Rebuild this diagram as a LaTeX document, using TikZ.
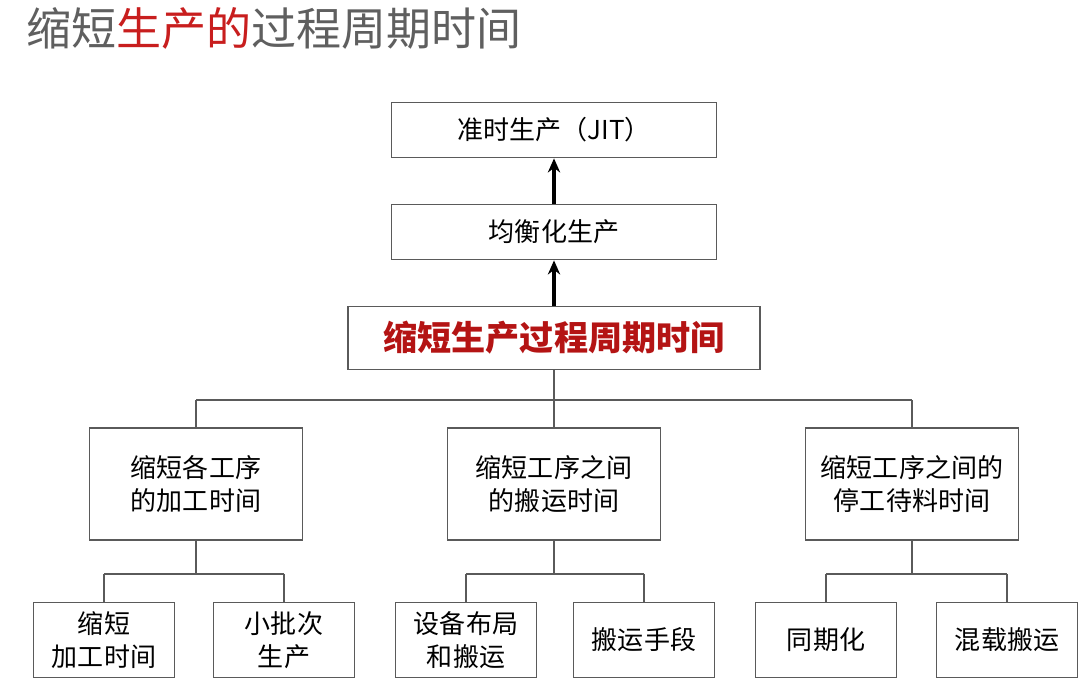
\documentclass[tikz,border=0pt]{standalone}
\usepackage{fontspec}
\setmainfont{Noto Sans CJK SC}
\usetikzlibrary{positioning,arrows.meta}
\definecolor{boxline}{RGB}{90,90,90}
\definecolor{titlered}{RGB}{200,30,30}
\definecolor{titlegray}{RGB}{95,95,95}
\definecolor{mainred}{RGB}{180,20,20}
\begin{document}
\begin{tikzpicture}[x=0.01cm,y=-0.01cm,
        box/.style = {draw = boxline, line width = 0.5pt, align = center, inner sep = 0pt,
                      font = \fontsize{7.4pt}{9.4pt}\selectfont},
        link/.style = {draw = boxline, line width = 0.5pt},
        up/.style = {-{Stealth[length=4pt,width=3.5pt]}, line width = 1.2pt}
    ]
    \useasboundingbox (0,0) rectangle (1080,684);

    % title
    \node[anchor=west, font=\fontsize{12.8pt}{14pt}\selectfont, text=titlegray] (T) at (14,28)
        {缩短\textcolor{titlered}{生产的}过程周期时间};

    % top chain
    \node[box, minimum width=325\pgflinewidth*0+3.25cm, minimum height=0.55cm] (JIT) at (554,130) {准时生产（JIT）};
    \node[box, minimum width=3.25cm, minimum height=0.55cm] (LV) at (554,232) {均衡化生产};
    \node[box, minimum width=4.12cm, minimum height=0.63cm, text=mainred,
          font=\fontsize{9.7pt}{11pt}\selectfont\bfseries] (M) at (554,338) {缩短生产过程周期时间};

    \draw[up] (LV) -- (JIT);
    \draw[up] (M) -- (LV);

    % middle level
    \node[box, minimum width=2.13cm, minimum height=1.12cm] (A) at (196,484) {缩短各工序\\的加工时间};
    \node[box, minimum width=2.13cm, minimum height=1.12cm] (B) at (554,484) {缩短工序之间\\的搬运时间};
    \node[box, minimum width=2.13cm, minimum height=1.12cm] (C) at (912,484) {缩短工序之间的\\停工待料时间};

    \coordinate (J) at (554,400);
    \draw[link] (M) -- (J);
    \draw[link] (J -| A) -- (J -| C);
    \draw[link] (J -| A) -- (A);
    \draw[link] (J) -- (B);
    \draw[link] (J -| C) -- (C);

    % bottom level
    \foreach \n/\x/\t in {A1/104/缩短\\加工时间, A2/284/小批次\\生产, B1/466/设备布局\\和搬运,
                          B2/644/搬运手段, C1/826/同期化, C2/1007/混载搬运}
        \node[box, minimum width=1.41cm, minimum height=0.75cm] (\n) at (\x,640) {\t};

    \foreach \p/\l/\r in {A/A1/A2, B/B1/B2, C/C1/C2} {
        \coordinate (\p j) at ([yshift=-0.33cm]\p.south);
        \draw[link] (\p) -- (\p j);
        \draw[link] (\p j -| \l) -- (\p j -| \r);
        \draw[link] (\p j -| \l) -- (\l);
        \draw[link] (\p j -| \r) -- (\r);
    }
\end{tikzpicture}
\end{document}
